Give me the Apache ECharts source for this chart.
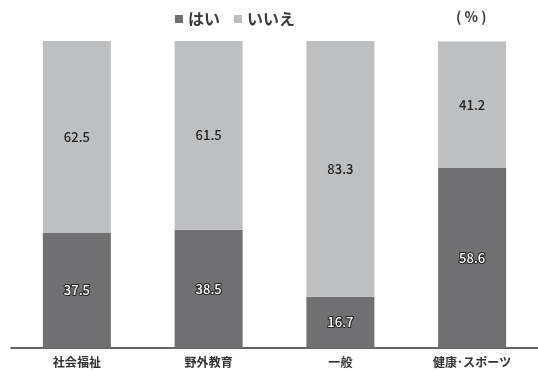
<!DOCTYPE html>
<html>
<head>
<meta charset="utf-8">
<script src="https://cdn.jsdelivr.net/npm/echarts@6/dist/echarts.min.js"></script>
<style>
  html, body { margin: 0; padding: 0; background: #fff; }
  #chart { width: 538px; height: 372px; }
</style>
</head>
<body>
<div id="chart"></div>
<script>
// Survey answers by field (percent)
const categories = ['社会福祉', '野外教育', '一般', '健康･スポーツ'];
const yesValues = [37.5, 38.5, 16.7, 58.6];
const noValues = [62.5, 61.5, 83.3, 41.2];
const seriesNames = ['はい', 'いいえ'];
const unitLabel = '( % )';

const FONT = '"Noto Sans CJK JP", "Noto Sans", sans-serif';

const chart = echarts.init(document.getElementById('chart'));
chart.setOption({
  animation: false,
  textStyle: { fontFamily: FONT },
  legend: {
    data: seriesNames,
    left: 170,
    top: 6,
    itemWidth: 8,
    itemHeight: 8,
    itemGap: 14,
    icon: 'rect',
    textStyle: { fontFamily: FONT, fontSize: 16, fontWeight: 'bold', color: '#3a3a3a' }
  },
  graphic: [{
    type: 'text',
    left: 456,
    top: 10,
    style: {
      text: unitLabel,
      fontFamily: FONT,
      fontSize: 14,
      fontWeight: 'bold',
      fill: '#3a3a3a'
    }
  }],
  grid: { left: 11, right: 0, top: 41, bottom: 24 },
  xAxis: {
    type: 'category',
    data: categories,
    axisLine: { lineStyle: { color: '#333', width: 1.5 } },
    axisTick: { show: false },
    axisLabel: { fontFamily: FONT, fontSize: 12, fontWeight: 'bold', color: '#333', margin: 8 }
  },
  yAxis: {
    type: 'value',
    min: 0,
    max: 100,
    show: false,
    splitLine: { show: false }
  },
  series: [
    {
      name: seriesNames[0],
      type: 'bar',
      stack: 'total',
      barWidth: 68,
      data: yesValues,
      itemStyle: { color: '#707072' },
      label: {
        show: true,
        position: 'inside',
        fontFamily: FONT,
        fontSize: 13,
        fontWeight: 500,
        color: '#fff',
        textBorderColor: '#222',
        textBorderWidth: 2
      }
    },
    {
      name: seriesNames[1],
      type: 'bar',
      stack: 'total',
      barWidth: 68,
      data: noValues,
      itemStyle: { color: '#bdbfc1' },
      label: {
        show: true,
        position: 'inside',
        fontFamily: FONT,
        fontSize: 13,
        fontWeight: 500,
        color: '#222'
      }
    }
  ]
});
</script>
</body>
</html>
